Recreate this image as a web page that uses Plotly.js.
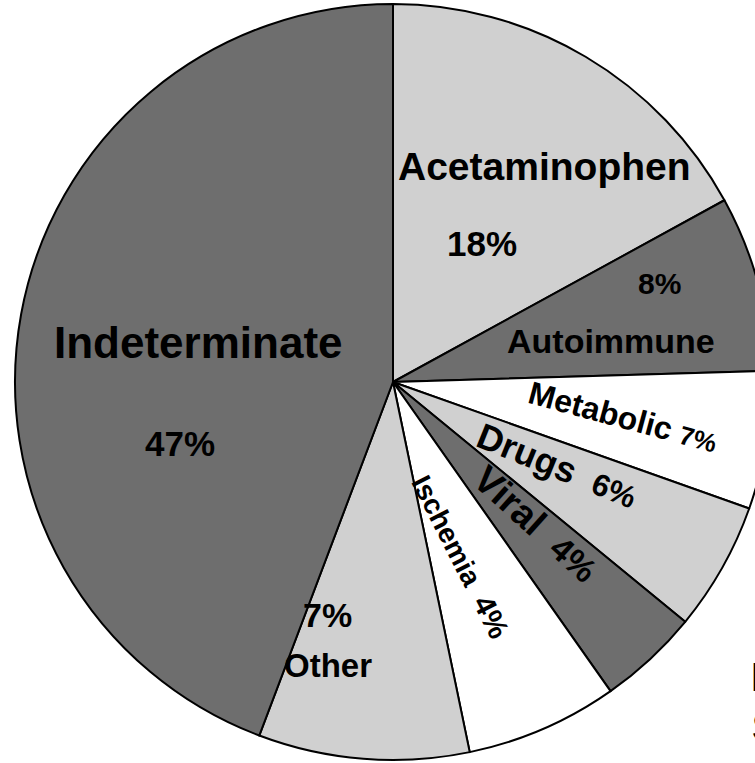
<!DOCTYPE html>
<html>
<head>
<meta charset="utf-8">
<script src="https://cdn.plot.ly/plotly-3.0.1.min.js"></script>
<style>
html, body { margin: 0; padding: 0; overflow: hidden; background: #fff; }
#chart { width: 786px; height: 763px; }
</style>
</head>
<body>
<div id="chart"></div>
<script>
// Slice categories (clockwise from 12 o'clock)
const categories = ["Acetaminophen", "Autoimmune", "Metabolic", "Drugs", "Viral", "Ischemia", "Other", "Indeterminate"];
// Slice sizes as drawn in the picture (share of the circle, %)
const sliceValues = [17.0, 7.5, 5.9, 5.5, 4.3, 6.5, 9.0, 44.2];
// Percentages printed on the chart
const printedPct = ["18%", "8%", "7%", "6%", "4%", "4%", "7%", "47%"];
const sliceColors = ["#d0d0d0", "#6e6e6e", "#ffffff", "#d0d0d0", "#6e6e6e", "#ffffff", "#d0d0d0", "#6e6e6e"];

const M = {l: 15, t: 4, w: 756, h: 756};
const px = x => (x - M.l) / M.w;
const py = y => 1 - (y - M.t) / M.h;
const FONT = "Liberation Sans, Arial, sans-serif";

function ann(text, x, y, size, angle) {
  return {
    text: text, xref: "paper", yref: "paper", x: px(x), y: py(y),
    xanchor: "center", yanchor: "middle", showarrow: false,
    textangle: angle || 0,
    font: {family: FONT, size: size, color: "#000", weight: "bold"}
  };
}
const b = s => "<b>" + s + "</b>";
const sm = (s, size) => "<span style='font-size:" + size + "px'>" + s + "</span>";

const annotations = [
  ann(b(categories[0]), 544, 166, 39),
  ann(b(printedPct[0]), 482, 243, 35),
  ann(b(printedPct[1]), 659, 283, 30),
  ann(b(categories[1]), 611, 341, 34),
  ann(b(categories[2] + " " + sm(printedPct[2], 26)), 623, 417, 32, 15),
  ann(b(categories[3] + "  " + sm(printedPct[3], 31)), 557, 465, 36, 22),
  ann(b(categories[4] + "  " + sm(printedPct[4], 34)), 536, 524, 38, 42),
  ann(b(categories[5] + "  " + sm(printedPct[5], 30)), 461, 556, 28, 63),
  ann(b(printedPct[6]), 327, 615, 34),
  ann(b(categories[6]), 328, 665, 33),
  ann(b(categories[7]), 198, 342, 44),
  ann(b(printedPct[7]), 180, 443, 35),
  {text: b("I"), xref: "paper", yref: "paper", x: px(749), y: py(677), xanchor: "left", yanchor: "middle",
   showarrow: false, font: {family: FONT, size: 40, color: "#000"}},
  {text: b("S"), xref: "paper", yref: "paper", x: px(750), y: py(727), xanchor: "left", yanchor: "middle",
   showarrow: false, font: {family: FONT, size: 40, color: "#000"}}
];

const data = [{
  type: "pie",
  labels: categories,
  values: sliceValues,
  sort: false,
  direction: "clockwise",
  rotation: 0,
  textinfo: "none",
  hoverinfo: "label+percent",
  marker: {colors: sliceColors, line: {color: "#000", width: 2}},
  showlegend: false
}];

const layout = {
  width: 786, height: 763,
  margin: {l: M.l, r: 786 - M.l - M.w, t: M.t, b: 763 - M.t - M.h, pad: 0},
  paper_bgcolor: "#fff",
  showlegend: false,
  annotations: annotations
};

Plotly.newPlot("chart", data, layout, {staticPlot: true, displayModeBar: false});
</script>
</body>
</html>
